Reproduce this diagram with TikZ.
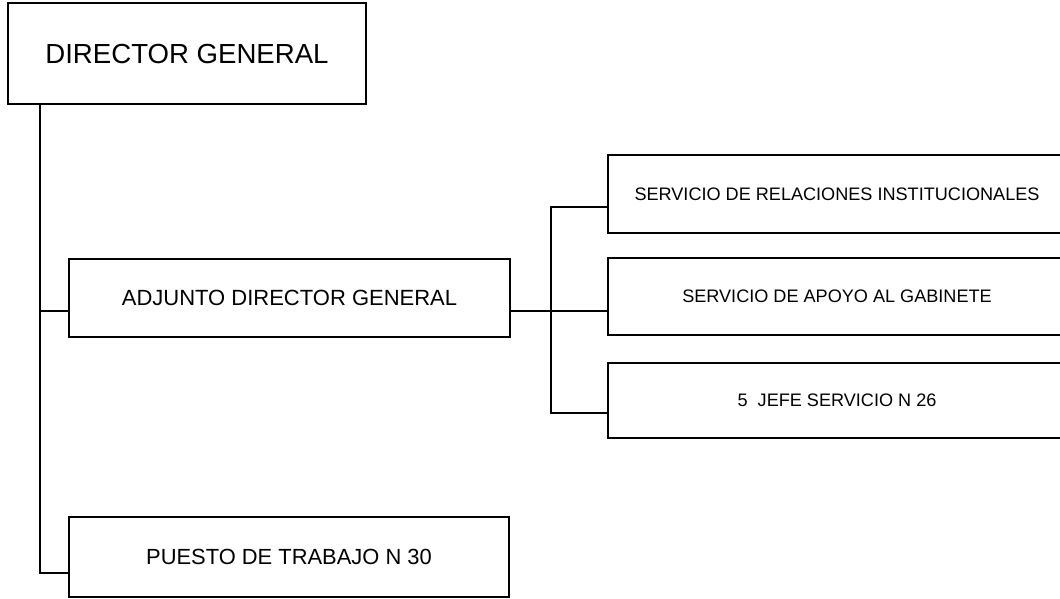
\documentclass[tikz,border=0pt]{standalone}
\usepackage{fontspec}
\setmainfont{Liberation Sans}

\begin{document}
\begin{tikzpicture}[x=1pt, y=-1pt,
    unit/.style={draw, line width=2.4pt, inner sep=0pt, align=center},
    link/.style={line width=2.4pt}]
      \useasboundingbox (0, 0) rectangle (1060, 598);
      \clip (0, 0) rectangle (1060, 598);

      \coordinate (trunk) at (40, 0);
      \coordinate (bus) at (551, 0);

      \node[unit, minimum width=358pt, minimum height=101pt, font=\fontsize{27.6}{32}\selectfont] (dg) at (187, 53.5) {DIRECTOR GENERAL};
      \node[unit, minimum width=441pt, minimum height=78pt, font=\fontsize{22}{26}\selectfont] (adj) at (289.5, 298) {ADJUNTO DIRECTOR GENERAL};
      \node[unit, minimum width=440pt, minimum height=80pt, font=\fontsize{21.9}{26}\selectfont] (pt) at (289, 557) {PUESTO DE TRABAJO N 30};

      \node[unit, minimum width=458pt, minimum height=78pt, font=\fontsize{18.1}{21}\selectfont] (rel) at (837, 194) {SERVICIO DE RELACIONES INSTITUCIONALES};
      \node[unit, minimum width=458pt, minimum height=77pt, font=\fontsize{18.1}{21}\selectfont] (gab) at (837, 296.5) {SERVICIO DE APOYO AL GABINETE};
      \node[unit, minimum width=458pt, minimum height=75pt, font=\fontsize{18.1}{21}\selectfont] (jefe) at (837, 400.5) {5\ \ JEFE SERVICIO N 26};

      \coordinate (adjL) at ([yshift=-13pt]adj.west);
      \coordinate (adjR) at ([yshift=-13pt]adj.east);
      \coordinate (ptL) at ([yshift=-16pt]pt.west);
      \coordinate (relL) at ([yshift=-13pt]rel.west);
      \coordinate (jefeL) at ([yshift=-12.5pt]jefe.west);

      \draw[link] (trunk |- dg.south) |- (ptL);
      \draw[link] (adjL -| trunk) -- (adjL);
      \draw[link] (adjR) -- (adjR -| gab.west);
      \draw[link] (relL) -| (bus |- jefeL) -- (jefeL);
    \end{tikzpicture}
\end{document}
